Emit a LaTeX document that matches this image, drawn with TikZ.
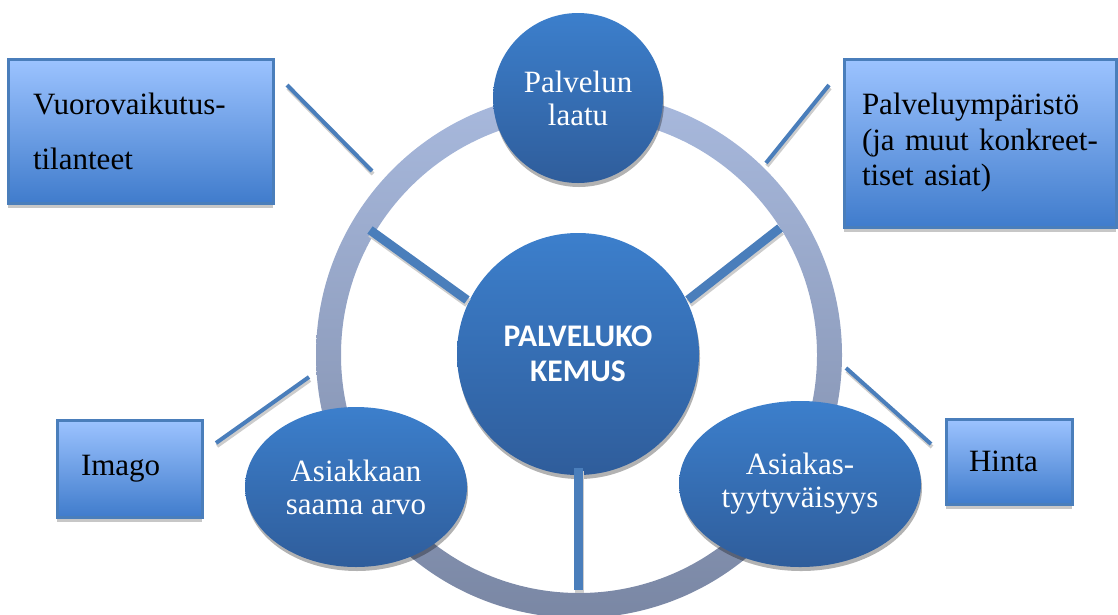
\documentclass[tikz,border=0pt]{standalone}
\usepackage{fontspec}
\setmainfont{Liberation Serif}
\newfontfamily\carlito{Carlito}
\usetikzlibrary{shapes.geometric,shadows}

\definecolor{lineblue}{RGB}{74,126,187}
\definecolor{balltop}{RGB}{60,127,204}
\definecolor{ballbot}{RGB}{47,93,155}
\definecolor{boxtop}{RGB}{156,195,255}
\definecolor{boxbot}{RGB}{64,124,204}
\definecolor{ringtop}{RGB}{168,185,221}
\definecolor{ringbot}{RGB}{122,135,164}

\tikzset{
  ball/.style={circle, inner sep=0pt, top color=balltop, bottom color=ballbot, text=white,
    align=center, font=\fontsize{31}{33}\selectfont,
    drop shadow={shadow xshift=1pt, shadow yshift=-4pt, opacity=.3, fill=black}},
  egg/.style={ball, ellipse},
  card/.style={rectangle, draw=lineblue, line width=3pt, top color=boxtop, bottom color=boxbot,
    align=left, inner ysep=0pt,
    drop shadow={shadow xshift=0pt, shadow yshift=-5pt, opacity=.22, fill=black}},
  rim/.style={even odd rule, top color=ringtop, bottom color=ringbot},
  spoke/.style={draw=lineblue, line width=9pt,
    preaction={draw=black!20, line width=9pt, transform canvas={xshift=1pt, yshift=-3pt}}},
  link/.style={draw=lineblue, line width=4pt,
    preaction={draw=black!20, line width=4pt, transform canvas={xshift=1pt, yshift=-3pt}}}
}

\begin{document}
\begin{tikzpicture}[x=1pt, y=-1pt]
  \useasboundingbox (0,0) rectangle (1118,614);

  % ring
  \coordinate (hub) at (579,355);
  \path[rim] (hub) circle (263pt) (hub) circle (238pt);

  % outer boxes
  \node[card, text width=215pt, inner xsep=25pt, minimum height=144pt,
    font=\fontsize{31}{55}\selectfont] (vuoro) at (140.5,131) {Vuorovaikutus-\\tilanteet};
  \node[card, text width=236pt, inner xsep=18pt, minimum height=168pt,
    font=\fontsize{31}{35.5}\selectfont] (ymparisto) at (980,143)
    {Palveluympäristö\\(ja muut konkreet-\\tiset asiat)};
  \node[card, text width=97pt, inner xsep=24pt, minimum height=97pt,
    font=\fontsize{31}{35}\selectfont] (imago) at (129.5,468.5) {Imago};
  \node[card, text width=80pt, inner xsep=23pt, minimum height=85pt,
    font=\fontsize{31}{35}\selectfont] (hinta) at (1009,461.5) {Hinta};

  % lines towards the boxes
  \coordinate (vuoroA) at (287,85);   \coordinate (vuoroB) at (372,171);
  \coordinate (ympA) at (829,85);     \coordinate (ympB) at (766,163);
  \coordinate (imagoA) at (216,443);  \coordinate (imagoB) at (309,377);
  \coordinate (hintaA) at (931,444);  \coordinate (hintaB) at (846,368);
  \draw[link] (vuoroA) -- (vuoroB);
  \draw[link] (ympA) -- (ympB);
  \draw[link] (imagoA) -- (imagoB);
  \draw[link] (hintaA) -- (hintaB);

  % circles
  \node[ball, minimum size=170pt] (laatu) at (578,98) {Palvelun\\laatu};
  \node[ball, minimum size=242pt, font=\carlito\bfseries\fontsize{31.5}{35}\selectfont]
    (kemus) at (578,354) {PALVELUKO\\KEMUS};
  \node[egg, minimum width=222pt, minimum height=160pt] (arvo) at (356,487)
    {Asiakkaan\\saama arvo};
  \node[egg, minimum width=242pt, minimum height=166pt] (tyyty) at (800,484)
    {Asiakas-\\tyytyväisyys};

  % spokes
  \coordinate (spokeL) at (370,230);
  \coordinate (spokeR) at (780,228);
  \coordinate (spokeB) at (578,590);
  \draw[spoke] (467,300) -- (spokeL);
  \draw[spoke] (688,300) -- (spokeR);
  \draw[spoke] (kemus.south |- 0,468) -- (spokeB);
\end{tikzpicture}
\end{document}
